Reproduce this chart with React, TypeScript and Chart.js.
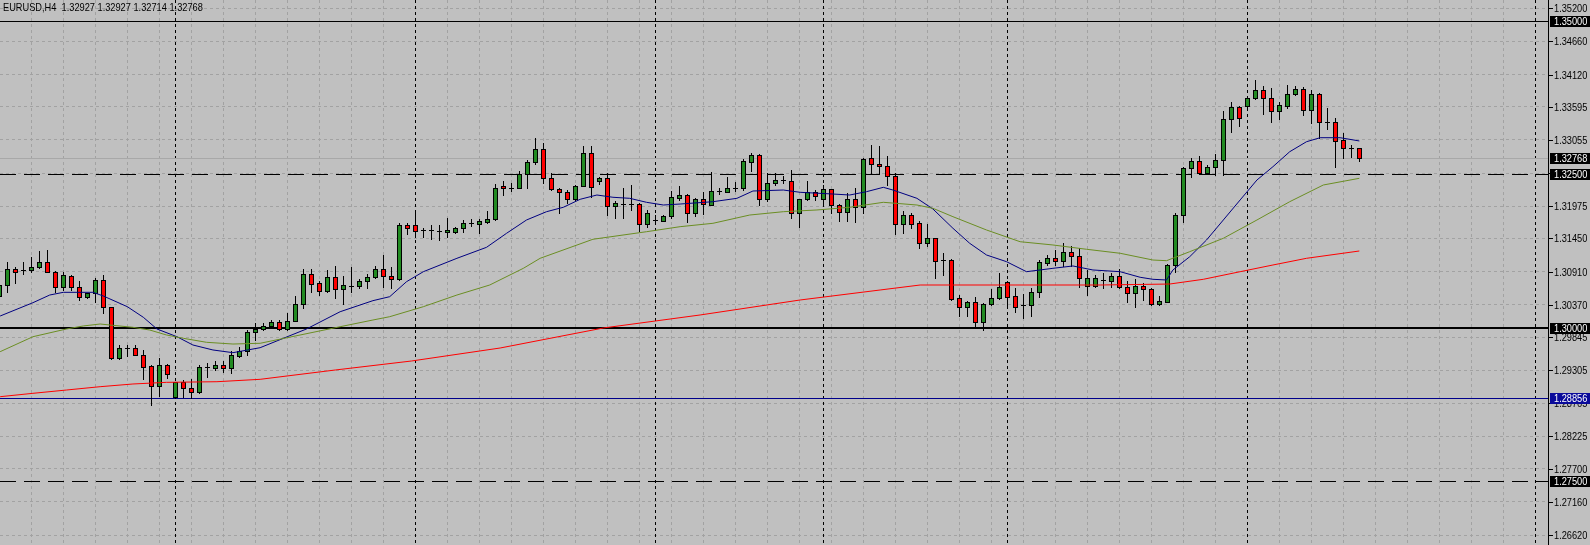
import React, { useEffect, useRef } from "react";
import { Chart, registerables } from "chart.js";

Chart.register(...registerables);

const TITLE = "EURUSD,H4  1.32927 1.32927 1.32714 1.32768";
const FIRST_BAR = -1;

const OPEN = [
  1.3052, 1.3069, 1.3096, 1.3093, 1.3093, 1.3098, 1.3106, 1.309, 1.3066, 1.3084,
  1.3066, 1.3049, 1.3056, 1.3077, 1.3033, 1.2951, 1.2967, 1.2967, 1.2956, 1.2937,
  1.2904, 1.2939, 1.2887, 1.2911, 1.2901, 1.2895, 1.2935, 1.2934, 1.2939, 1.2934,
  1.2954, 1.2961, 1.2992, 1.2998, 1.3003, 1.3009, 1.2998, 1.3011, 1.3038, 1.3087,
  1.3072, 1.306, 1.3083, 1.3062, 1.3068, 1.3067, 1.3076, 1.3082, 1.3095, 1.3084,
  1.3079, 1.3167, 1.3167, 1.3159, 1.3158, 1.3157, 1.3156, 1.3155, 1.3162, 1.317,
  1.3169, 1.3172, 1.3176, 1.323, 1.3228, 1.3228, 1.325, 1.3269, 1.329, 1.3243,
  1.3225, 1.322, 1.3209, 1.3231, 1.3285, 1.3239, 1.3243, 1.3198, 1.3201, 1.3201,
  1.3201, 1.3168, 1.3175, 1.3174, 1.3182, 1.3211, 1.3215, 1.3186, 1.321, 1.32,
  1.3222, 1.3221, 1.3228, 1.3227, 1.327, 1.3281, 1.3209, 1.3235, 1.3241, 1.3239,
  1.3186, 1.321, 1.322, 1.321, 1.3225, 1.32, 1.3188, 1.321, 1.3197, 1.3276,
  1.3266, 1.3263, 1.3247, 1.3169, 1.3184, 1.317, 1.3137, 1.3145, 1.311, 1.311,
  1.3048, 1.3034, 1.3041, 1.3009, 1.3038, 1.3048, 1.3074, 1.3052, 1.3036, 1.3036,
  1.3058, 1.3105, 1.3114, 1.3109, 1.3123, 1.3117, 1.3068, 1.3068, 1.3078, 1.3076,
  1.3084, 1.3066, 1.3057, 1.3068, 1.3063, 1.3038, 1.3042, 1.3102, 1.3184, 1.3259,
  1.3271, 1.3251, 1.3261, 1.3273, 1.3339, 1.3359, 1.336, 1.3373, 1.3386, 1.3373,
  1.3353, 1.336, 1.338, 1.3388, 1.3355, 1.3381, 1.3335, 1.3334, 1.3305, 1.3293,
  1.32927,
];
const HIGH = [
  1.3074, 1.3106, 1.3099, 1.3106, 1.3115, 1.3125, 1.3126, 1.3092, 1.309, 1.3086,
  1.3075, 1.3057, 1.3081, 1.3086, 1.3034, 1.2972, 1.2971, 1.2972, 1.2963, 1.2939,
  1.2951, 1.294, 1.2912, 1.2915, 1.2916, 1.2939, 1.2943, 1.2945, 1.2945, 1.2961,
  1.2969, 1.2996, 1.3007, 1.3007, 1.3013, 1.3012, 1.3024, 1.3051, 1.3096, 1.3096,
  1.3076, 1.3094, 1.31, 1.3084, 1.3098, 1.3079, 1.3087, 1.31, 1.3118, 1.3099,
  1.3171, 1.317, 1.3187, 1.3162, 1.3167, 1.3167, 1.3178, 1.3163, 1.3175, 1.3176,
  1.3177, 1.3189, 1.3233, 1.3239, 1.3235, 1.3255, 1.3273, 1.3309, 1.33, 1.3252,
  1.3227, 1.3224, 1.3232, 1.3296, 1.3296, 1.3245, 1.3251, 1.3206, 1.3227, 1.3232,
  1.3202, 1.3191, 1.3183, 1.3183, 1.3222, 1.3231, 1.3217, 1.3211, 1.322, 1.3253,
  1.3227, 1.3245, 1.3237, 1.3274, 1.3284, 1.3282, 1.3251, 1.3252, 1.3247, 1.3257,
  1.321, 1.3238, 1.3224, 1.3232, 1.3226, 1.3201, 1.3219, 1.3227, 1.3276, 1.3298,
  1.3295, 1.3279, 1.3251, 1.3189, 1.3187, 1.3174, 1.3168, 1.3146, 1.3121, 1.3111,
  1.3053, 1.3043, 1.3049, 1.304, 1.3063, 1.3088, 1.3075, 1.3064, 1.3054, 1.3064,
  1.311, 1.3118, 1.3127, 1.3138, 1.3132, 1.3129, 1.3094, 1.3086, 1.3088, 1.3088,
  1.3095, 1.3075, 1.3079, 1.3072, 1.3064, 1.3051, 1.3103, 1.3187, 1.3262, 1.3276,
  1.3279, 1.3265, 1.3282, 1.3353, 1.3367, 1.336, 1.3376, 1.3403, 1.3393, 1.339,
  1.3368, 1.3395, 1.3393, 1.3391, 1.3387, 1.3382, 1.3357, 1.3341, 1.3316, 1.3297,
  1.32927,
];
const LOW = [
  1.305, 1.3058, 1.3072, 1.3087, 1.309, 1.3097, 1.309, 1.3058, 1.3061, 1.3061,
  1.3044, 1.3048, 1.3041, 1.3024, 1.2949, 1.2948, 1.2954, 1.2955, 1.2916, 1.2874,
  1.2889, 1.2918, 1.2885, 1.2887, 1.2885, 1.2894, 1.292, 1.2931, 1.2928, 1.2926,
  1.2952, 1.2955, 1.298, 1.2996, 1.3001, 1.2996, 1.2996, 1.301, 1.3031, 1.3058,
  1.3053, 1.3058, 1.3048, 1.3039, 1.3058, 1.3065, 1.3065, 1.3081, 1.3066, 1.3065,
  1.3077, 1.3153, 1.3148, 1.3147, 1.3144, 1.3143, 1.3148, 1.3154, 1.3155, 1.3166,
  1.3154, 1.317, 1.3175, 1.3215, 1.3223, 1.3227, 1.3228, 1.3267, 1.3235, 1.3224,
  1.3187, 1.3202, 1.3208, 1.323, 1.3212, 1.3233, 1.3184, 1.3179, 1.3179, 1.3191,
  1.3157, 1.3163, 1.3172, 1.3173, 1.3179, 1.3208, 1.3172, 1.3182, 1.3185, 1.3199,
  1.3217, 1.322, 1.3222, 1.3224, 1.3255, 1.32, 1.3206, 1.3232, 1.3235, 1.3178,
  1.3164, 1.3208, 1.3208, 1.3202, 1.3186, 1.3174, 1.3174, 1.3172, 1.3186, 1.3251,
  1.3251, 1.3232, 1.3153, 1.3154, 1.3162, 1.3129, 1.3133, 1.308, 1.3086, 1.3045,
  1.3018, 1.3018, 1.3001, 1.2996, 1.3037, 1.3047, 1.3037, 1.3026, 1.3015, 1.3019,
  1.305, 1.3102, 1.3102, 1.31, 1.31, 1.3066, 1.3053, 1.3066, 1.3065, 1.3066,
  1.3065, 1.3042, 1.3034, 1.3045, 1.3037, 1.3037, 1.3041, 1.3091, 1.3172, 1.3245,
  1.325, 1.325, 1.3249, 1.3249, 1.3319, 1.3328, 1.3359, 1.3372, 1.3347, 1.3335,
  1.3339, 1.3357, 1.3379, 1.3346, 1.3333, 1.3308, 1.3324, 1.3262, 1.3276, 1.3278,
  1.32714,
];
const CLOSE = [
  1.307, 1.3096, 1.3091, 1.3093, 1.3098, 1.3106, 1.3091, 1.3066, 1.3086, 1.3066,
  1.3049, 1.3056, 1.3077, 1.3033, 1.2951, 1.2966, 1.2967, 1.2956, 1.2936, 1.2904,
  1.2939, 1.2924, 1.2911, 1.2901, 1.2895, 1.2935, 1.2935, 1.2939, 1.2934, 1.2955,
  1.2962, 1.2992, 1.2998, 1.3003, 1.3009, 1.2998, 1.3011, 1.3038, 1.3087, 1.3071,
  1.306, 1.3083, 1.3062, 1.3069, 1.3068, 1.3076, 1.3083, 1.3095, 1.3084, 1.3079,
  1.3167, 1.3162, 1.3157, 1.3159, 1.3158, 1.3157, 1.3159, 1.3162, 1.3171, 1.317,
  1.3174, 1.3176, 1.3228, 1.3227, 1.3228, 1.325, 1.3269, 1.329, 1.3243, 1.3225,
  1.322, 1.3209, 1.3231, 1.3285, 1.3229, 1.3243, 1.3198, 1.3202, 1.3201, 1.3201,
  1.3168, 1.3186, 1.3175, 1.3182, 1.3212, 1.3215, 1.3186, 1.321, 1.3201, 1.3222,
  1.3222, 1.3228, 1.3228, 1.3271, 1.3281, 1.3209, 1.3235, 1.3241, 1.3241, 1.3186,
  1.321, 1.322, 1.3214, 1.3225, 1.32, 1.3188, 1.321, 1.3196, 1.3274, 1.3266,
  1.3263, 1.3247, 1.3169, 1.3184, 1.3169, 1.3137, 1.3145, 1.3109, 1.311, 1.3046,
  1.3034, 1.3041, 1.3009, 1.3039, 1.3048, 1.3066, 1.305, 1.3034, 1.3036, 1.3058,
  1.3106, 1.3114, 1.3109, 1.3123, 1.3117, 1.308, 1.308, 1.308, 1.3078, 1.3084,
  1.3066, 1.3057, 1.3068, 1.3062, 1.3038, 1.3043, 1.3102, 1.3184, 1.3259, 1.3271,
  1.3251, 1.3261, 1.3273, 1.3339, 1.3359, 1.3341, 1.3373, 1.3386, 1.3373, 1.3353,
  1.3362, 1.338, 1.3388, 1.3355, 1.3381, 1.3335, 1.3335, 1.3303, 1.3293, 1.3293,
  1.32768,
];

// Moving averages: bar index (position) and value
const BLUE_BAR = [
  -0.9, 3.2, 5.3, 7, 10.7, 12, 15, 17, 18.7, 21.2, 23.2, 25.7, 28.2, 31.6, 37.4, 41.6,
  45.7, 47.8, 49.9, 52, 56.2, 59.9, 62.4, 64.9, 67.4, 69.5, 71.6, 73.7, 75.7, 77.8, 79.9,
  82, 84.1, 88.2, 91.2, 93.2, 97, 99.1, 103.2, 105.3, 107.4, 109.5, 110.7, 113.7, 115.7,
  118.2, 120.3, 122.4, 124.9, 127.4, 130.7, 133.2, 135.7, 139.1, 141.6, 143.2, 144.9,
  145.7, 147.8, 149.9, 152, 154.1, 156.2, 158.2, 160.3, 162.4, 164.1, 166.6, 169,
];
const BLUE_MA = [
  1.30187, 1.30404, 1.30529, 1.30573, 1.30573, 1.30513, 1.30339, 1.30166, 1.29976, 1.2985,
  1.29715, 1.29634, 1.2959, 1.29671, 1.29976, 1.30257, 1.30437, 1.30502, 1.30746, 1.30909,
  1.31127, 1.31306, 1.31534, 1.31751, 1.31886, 1.31958, 1.32088, 1.32158, 1.32121, 1.32104,
  1.32039, 1.31995, 1.32011, 1.32049, 1.32104, 1.32223, 1.32239, 1.32202, 1.32174, 1.32158,
  1.32212, 1.32283, 1.32239, 1.32104, 1.3193, 1.31616, 1.31371, 1.31181, 1.31072, 1.30909,
  1.30964, 1.31002, 1.30937, 1.30909, 1.30818, 1.30785, 1.30774, 1.30937, 1.31153, 1.31425,
  1.31751, 1.32077, 1.32402, 1.32619, 1.32863, 1.33026, 1.33091, 1.33091, 1.33038,
];
const OLIVE_BAR = [
  -0.9, 3.2, 7.4, 9.5, 11.6, 13.7, 15.7, 17.8, 19.9, 22, 24.9, 28.2, 31.6, 41.6, 45.7,
  47.8, 52, 56.2, 60.3, 64.5, 66.6, 73.2, 79.9, 84.1, 88.2, 92.8, 97, 101.2, 105.3, 109.5,
  113.7, 115.7, 118.2, 122.4, 126.6, 130.7, 134.9, 139.1, 143.2, 144.9, 147.8, 152, 156.2,
  160.3, 164.5, 169,
];
const OLIVE_MA = [
  1.29606, 1.2985, 1.29976, 1.30025, 1.30057, 1.30029, 1.30003, 1.29959, 1.29878, 1.29824,
  1.29759, 1.29731, 1.29743, 1.30013, 1.30122, 1.30176, 1.30339, 1.30529, 1.30692, 1.30964,
  1.31127, 1.31437, 1.3156, 1.31642, 1.31697, 1.31832, 1.31886, 1.31914, 1.31958, 1.32039,
  1.31995, 1.31941, 1.31805, 1.31588, 1.31397, 1.31344, 1.31274, 1.31209, 1.31099, 1.31088,
  1.31235, 1.31453, 1.31751, 1.32049, 1.32321, 1.3243,
];
const RED_BAR = [
  -0.9, 3.2, 7.4, 11.6, 15.7, 19.9, 26.2, 31.6, 41, 50.5, 61.6, 74.5, 86.6, 99.1, 109.1,
  114.1, 124.1, 136.6, 145.3, 149.5, 154.1, 158.2, 162.4, 169,
];
const RED_MA = [
  1.28873, 1.28928, 1.28982, 1.29036, 1.2908, 1.29107, 1.29117, 1.29156, 1.29308, 1.29454,
  1.29666, 1.29992, 1.30204, 1.30448, 1.30611, 1.30692, 1.30692, 1.30692, 1.30708, 1.30785,
  1.30909, 1.31018, 1.31127, 1.31246,
];

const PRICE_TICKS = [
  1.352, 1.3466, 1.3412, 1.33595, 1.33055, 1.32515, 1.31975, 1.3145, 1.3091, 1.3037,
  1.29845, 1.29305, 1.28765, 1.28225, 1.277, 1.2716, 1.2662,
];
const LEVEL_PRICES = [1.35, 1.325, 1.3, 1.28856, 1.275];
const BID_PRICE = 1.32768;
const SEPARATOR_BARS = [21, 51, 81, 102, 125, 155, 191];
const GRID_BAR_FIRST = 3;
const GRID_BAR_STEP = 4;
const GRID_BAR_LAST = 191;

// view window
const X_MIN = -0.9163;
const X_MAX = 192.5837;
const Y_MIN = 1.264577;
const Y_MAX = 1.353339;

const BG = "#C0C0C0";
const GRID = "#A2A2A2";
const BULL = "#228B22";
const BEAR = "#FF0000";
const FONT = "11px 'Liberation Sans', Arial, sans-serif";
const FONT_SX = 0.84;

const LEVEL_STYLE = [
  { color: "#000000", width: 1, dash: [] as number[], box: "#000000" },
  { color: "#000000", width: 1, dash: [16, 8], box: "#000000" },
  { color: "#000000", width: 2, dash: [] as number[], box: "#000000" },
  { color: "#00008B", width: 1, dash: [] as number[], box: "#0A0A9A" },
  { color: "#000000", width: 1, dash: [16, 8], box: "#000000" },
];

function drawText(ctx: CanvasRenderingContext2D, text: string, x: number, y: number, color: string) {
  ctx.save();
  ctx.font = FONT;
  ctx.fillStyle = color;
  ctx.textBaseline = "middle";
  ctx.textAlign = "left";
  ctx.translate(x, y);
  ctx.scale(FONT_SX, 1);
  ctx.fillText(text, 0, 0);
  ctx.restore();
}

export default function App() {
  const ref = useRef<HTMLCanvasElement>(null);

  useEffect(() => {
    document.body.style.margin = "0";
    const canvas = ref.current;
    if (!canvas) return;

    const bars = OPEN.map((o, i) => ({
      k: FIRST_BAR + i,
      o,
      h: HIGH[i],
      l: LOW[i],
      c: CLOSE[i],
    }));
    const zip = (xs: number[], ys: number[]) =>
      xs.slice(0, Math.min(xs.length, ys.length)).map((x, i) => ({ x, y: ys[i] }));

    const gridBars: number[] = [];
    for (let b = GRID_BAR_FIRST; b <= GRID_BAR_LAST; b += GRID_BAR_STEP) gridBars.push(b);

    const bgPlugin = {
      id: "bgFill",
      beforeDraw(chart: any) {
        const ctx = chart.ctx;
        ctx.save();
        ctx.fillStyle = BG;
        ctx.fillRect(0, 0, chart.width, chart.height);
        ctx.restore();
      },
    };

    const mt4Plugin = {
      id: "mt4",
      beforeDatasetsDraw(chart: any) {
        const { ctx, chartArea: a, scales } = chart;
        const xs = scales.x;
        const ys = scales.y;
        ctx.save();
        ctx.beginPath();
        ctx.rect(a.left, a.top, a.right - a.left, a.bottom - a.top);
        ctx.clip();

        // period separators
        ctx.strokeStyle = "#000000";
        ctx.lineWidth = 1;
        ctx.setLineDash([3, 3]);
        for (const s of SEPARATOR_BARS) {
          const px = Math.round(xs.getPixelForValue(s)) + 0.5;
          ctx.beginPath();
          ctx.moveTo(px, a.top);
          ctx.lineTo(px, a.bottom);
          ctx.stroke();
        }

        // bid line
        ctx.setLineDash([]);
        ctx.strokeStyle = "#A8A8A8";
        const by = Math.round(ys.getPixelForValue(BID_PRICE)) + 0.5;
        ctx.beginPath();
        ctx.moveTo(a.left, by);
        ctx.lineTo(a.right, by);
        ctx.stroke();

        // horizontal levels
        LEVEL_PRICES.forEach((p, i) => {
          const st = LEVEL_STYLE[i];
          const py = Math.round(ys.getPixelForValue(p));
          ctx.strokeStyle = st.color;
          ctx.lineWidth = st.width;
          ctx.setLineDash(st.dash);
          const yy = st.width % 2 === 1 ? py + 0.5 : py;
          ctx.beginPath();
          ctx.moveTo(a.left, yy);
          ctx.lineTo(a.right, yy);
          ctx.stroke();
        });
        ctx.setLineDash([]);

        // candles
        for (const b of bars) {
          const cx = Math.round(xs.getPixelForValue(b.k));
          const yH = Math.round(ys.getPixelForValue(b.h));
          const yL = Math.round(ys.getPixelForValue(b.l));
          const yTop = Math.round(ys.getPixelForValue(Math.max(b.o, b.c)));
          const yBot = Math.round(ys.getPixelForValue(Math.min(b.o, b.c)));
          ctx.fillStyle = "#000000";
          ctx.fillRect(cx, yH, 1, Math.max(1, yL - yH + 1));
          if (b.c === b.o || yBot - yTop < 1) {
            ctx.fillRect(cx - 2, yTop, 5, 1);
          } else {
            ctx.fillRect(cx - 2, yTop, 5, yBot - yTop + 1);
            if (yBot - yTop - 1 > 0) {
              ctx.fillStyle = b.c > b.o ? BULL : BEAR;
              ctx.fillRect(cx - 1, yTop + 1, 3, yBot - yTop - 1);
            }
          }
        }
        ctx.restore();
      },
      afterDraw(chart: any) {
        const { ctx, chartArea: a, scales } = chart;
        const ys = scales.y;
        ctx.save();
        // axis line
        ctx.fillStyle = "#000000";
        ctx.fillRect(a.right, 0, 1, chart.height);
        // tick marks + labels
        for (const v of PRICE_TICKS) {
          const py = Math.round(ys.getPixelForValue(v));
          ctx.fillStyle = "#000000";
          ctx.fillRect(a.right + 1, py, 4, 1);
          drawText(ctx, v.toFixed(5), a.right + 6, py + 0.5, "#000000");
        }
        // boxed labels
        const boxes = LEVEL_PRICES.map((p, i) => ({ p, bg: LEVEL_STYLE[i].box }));
        boxes.push({ p: BID_PRICE, bg: "#000000" });
        for (const bx of boxes) {
          const py = Math.round(ys.getPixelForValue(bx.p));
          ctx.fillStyle = bx.bg;
          ctx.fillRect(a.right + 2, py - 5, chart.width - a.right - 2, 11);
          drawText(ctx, bx.p.toFixed(5), a.right + 6, py + 0.5, "#FFFFFF");
        }
        // title
        drawText(ctx, TITLE, 3, 7.5, "#000000");
        ctx.restore();
      },
    };

    const chart = new Chart(canvas, {
      type: "line",
      data: {
        datasets: [
          {
            data: zip(RED_BAR, RED_MA),
            borderColor: "#FF0000",
            borderWidth: 1,
            pointRadius: 0,
            tension: 0,
            fill: false,
          },
          {
            data: zip(OLIVE_BAR, OLIVE_MA),
            borderColor: "#6B8E23",
            borderWidth: 1,
            pointRadius: 0,
            tension: 0,
            fill: false,
          },
          {
            data: zip(BLUE_BAR, BLUE_MA),
            borderColor: "#000080",
            borderWidth: 1,
            pointRadius: 0,
            tension: 0,
            fill: false,
          },
        ],
      },
      options: {
        responsive: false,
        animation: false,
        devicePixelRatio: 1,
        events: [],
        layout: { padding: 0, autoPadding: false },
        plugins: {
          legend: { display: false },
          tooltip: { enabled: false },
          title: { display: false },
        },
        scales: {
          x: {
            type: "linear",
            min: X_MIN,
            max: X_MAX,
            bounds: "data",
            afterBuildTicks: (s: any) => {
              s.ticks = gridBars.map((v) => ({ value: v }));
            },
            afterFit: (s: any) => {
              s.height = 0;
            },
            ticks: { display: false },
            grid: { color: GRID, drawTicks: false, lineWidth: 1 },
            border: { display: false, dash: [3, 3] },
          },
          y: {
            type: "linear",
            position: "right",
            min: Y_MIN,
            max: Y_MAX,
            bounds: "data",
            afterBuildTicks: (s: any) => {
              s.ticks = PRICE_TICKS.map((v) => ({ value: v }));
            },
            afterFit: (s: any) => {
              s.width = 42;
            },
            ticks: { display: false },
            grid: { color: GRID, drawTicks: false, lineWidth: 1 },
            border: { display: false, dash: [3, 3] },
          },
        },
      } as any,
      plugins: [bgPlugin, mt4Plugin],
    });

    return () => {
      chart.destroy();
    };
  }, []);

  return (
    <canvas
      ref={ref}
      width={1590}
      height={545}
      style={{ display: "block", width: "1590px", height: "545px" }}
    />
  );
}
